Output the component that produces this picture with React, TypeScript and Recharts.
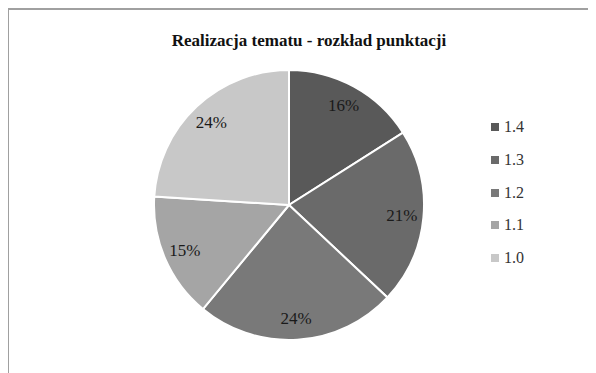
import { PieChart, Pie, Cell, Legend } from 'recharts';

const categories = ['1.4', '1.3', '1.2', '1.1', '1.0'];
const shares = [16, 21, 24, 15, 24];
const colors = ['#595959', '#6a6a6a', '#797979', '#a5a5a5', '#c8c8c8'];

const data = categories.map((name, i) => ({ name, value: shares[i] }));

const RADIAN = Math.PI / 180;
const serif = '"Liberation Serif", "DejaVu Serif", serif';

const renderLabel = (props: any) => {
  const { cx, cy, midAngle, outerRadius, percent } = props;
  const r = outerRadius * 0.84;
  const x = cx + r * Math.cos(-midAngle * RADIAN);
  const y = cy + r * Math.sin(-midAngle * RADIAN);
  return (
    <text
      x={x}
      y={y}
      fill='#1a1a1a'
      textAnchor='middle'
      dominantBaseline='central'
      fontFamily={serif}
      fontSize={17}
    >
      {`${Math.round(percent * 100)}%`}
    </text>
  );
};

const renderLegend = (props: any) => {
  // keep the legend in data order (1.4 on top)
  const items = [...props.payload].sort(
    (a: any, b: any) => categories.indexOf(a.value) - categories.indexOf(b.value)
  );
  return (
    <div style={{ fontFamily: serif, fontSize: 16, color: '#333' }}>
      {items.map((entry: any) => (
        <div
          key={entry.value}
          style={{ display: 'flex', alignItems: 'center', height: 32.7 }}
        >
          <span
            style={{
              width: 8,
              height: 8,
              background: entry.color,
              marginRight: 5,
              display: 'inline-block',
            }}
          />
          <span>{entry.value}</span>
        </div>
      ))}
    </div>
  );
};

export default function App() {
  return (
    <div
      style={{
        position: 'relative',
        width: 588,
        height: 365,
        borderLeft: '2px solid #a0a0a0',
        borderTop: '2px solid #a0a0a0',
        marginLeft: -1,
        boxSizing: 'border-box',
        background: '#fff',
      }}
    >
      <div
        style={{
          position: 'absolute',
          left: 0,
          top: 21,
          width: 600,
          textAlign: 'center',
          fontFamily: serif,
          fontWeight: 'bold',
          fontSize: 17,
          color: '#111',
        }}
      >
        Realizacja tematu - rozkład punktacji
      </div>
      <PieChart width={586} height={363} style={{ position: 'absolute', left: 0, top: 0 }}>
        <Pie
          data={data}
          dataKey='value'
          nameKey='name'
          cx={275}
          cy={190}
          outerRadius={135}
          startAngle={90}
          endAngle={-270}
          stroke='#ffffff'
          strokeWidth={2}
          label={renderLabel}
          labelLine={false}
          isAnimationActive={false}
        >
          {data.map((d, i) => (
            <Cell key={d.name} fill={colors[i]} />
          ))}
        </Pie>
        <Legend
          layout='vertical'
          content={renderLegend}
          wrapperStyle={{ left: 482, top: 101, width: 60 }}
        />
      </PieChart>
    </div>
  );
}
